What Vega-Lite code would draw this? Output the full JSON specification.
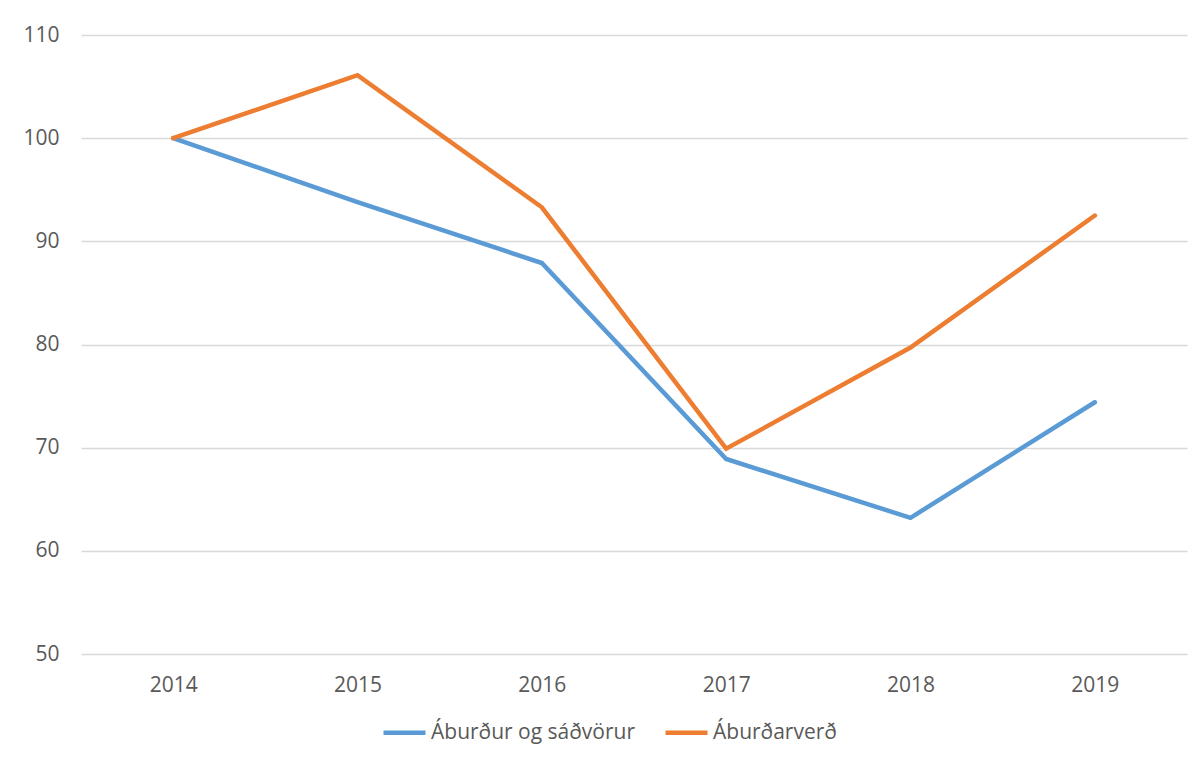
{
  "$schema": "https://vega.github.io/schema/vega-lite/v6.json",
  "width": 1106,
  "height": 619,
  "autosize": {"type": "none"},
  "padding": {"left": 81, "top": 35, "right": 16, "bottom": 106},
  "background": "white",
  "data": {
    "values": [
      {"year": "2014", "series": "Áburður og sáðvörur", "value": 100},
      {"year": "2015", "series": "Áburður og sáðvörur", "value": 93.8},
      {"year": "2016", "series": "Áburður og sáðvörur", "value": 87.9},
      {"year": "2017", "series": "Áburður og sáðvörur", "value": 68.9},
      {"year": "2018", "series": "Áburður og sáðvörur", "value": 63.2},
      {"year": "2019", "series": "Áburður og sáðvörur", "value": 74.4},
      {"year": "2014", "series": "Áburðarverð", "value": 100},
      {"year": "2015", "series": "Áburðarverð", "value": 106.1},
      {"year": "2016", "series": "Áburðarverð", "value": 93.3},
      {"year": "2017", "series": "Áburðarverð", "value": 69.9},
      {"year": "2018", "series": "Áburðarverð", "value": 79.7},
      {"year": "2019", "series": "Áburðarverð", "value": 92.5}
    ]
  },
  "mark": {"type": "line", "strokeWidth": 4.5, "strokeCap": "round", "strokeJoin": "miter"},
  "encoding": {
    "x": {
      "field": "year", "type": "ordinal", "title": null,
      "scale": {"type": "point", "padding": 0.5},
      "axis": {"labelAngle": 0, "domain": false, "ticks": false, "grid": false, "labelPadding": 20, "labelFontSize": 21}
    },
    "y": {
      "field": "value", "type": "quantitative", "title": null,
      "scale": {"domain": [50, 110], "nice": false, "zero": false},
      "axis": {"values": [50, 60, 70, 80, 90, 100, 110], "domain": false, "ticks": false, "labelPadding": 22, "labelFontSize": 21, "gridColor": "#d9d9d9", "gridWidth": 1.5}
    },
    "color": {
      "field": "series", "type": "nominal", "title": null,
      "sort": ["Áburður og sáðvörur", "Áburðarverð"],
      "scale": {"domain": ["Áburður og sáðvörur", "Áburðarverð"], "range": ["#5b9bd5", "#ed7d31"]},
      "legend": {
        "orient": "none", "direction": "horizontal",
        "legendX": 300, "legendY": 674,
        "symbolType": "stroke", "symbolSize": 1764, "symbolStrokeWidth": 4.5,
        "labelFontSize": 21, "labelOffset": 3, "columnPadding": 20, "padding": 0, "labelLimit": 500
      }
    }
  },
  "config": {
    "font": "Open Sans",
    "view": {"stroke": null},
    "axis": {"labelColor": "#595959", "labelFont": "Open Sans"},
    "legend": {"labelColor": "#595959", "labelFont": "Open Sans"}
  }
}
